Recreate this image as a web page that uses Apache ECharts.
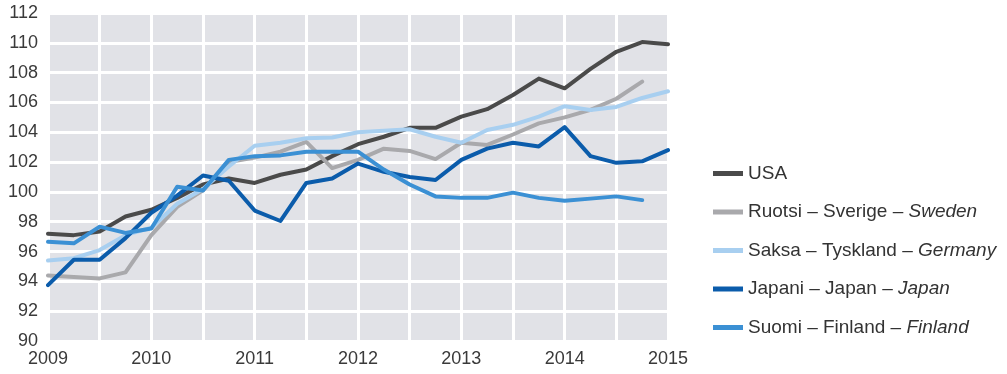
<!DOCTYPE html>
<html><head><meta charset="utf-8">
<script src="https://cdn.jsdelivr.net/npm/echarts@6/dist/echarts.min.js"></script>
<style>html,body{margin:0;padding:0;background:#fff}#c{width:1007px;height:374px}</style>
</head><body><div id="c"></div>
<script>
const quarters = ['2009','2009 Q2','2009 Q3','2009 Q4',
  '2010','2010 Q2','2010 Q3','2010 Q4',
  '2011','2011 Q2','2011 Q3','2011 Q4',
  '2012','2012 Q2','2012 Q3','2012 Q4',
  '2013','2013 Q2','2013 Q3','2013 Q4',
  '2014','2014 Q2','2014 Q3','2014 Q4',
  '2015'];
const yTicks = [90,92,94,96,98,100,102,104,106,108,110,112];

const usa     = [97.2, 97.1, 97.35, 98.35, 98.8, 99.6, 100.5, 100.9, 100.6, 101.15, 101.5, 102.4, 103.2, 103.7, 104.3, 104.3, 105.05, 105.55, 106.5, 107.6, 106.95, 108.25, 109.4, 110.05, 109.9];
const sweden  = [94.4, 94.3, 94.2, 94.6, 97.1, 99.0, 100.1, 102.0, 102.3, 102.7, 103.35, 101.6, 102.15, 102.9, 102.75, 102.2, 103.3, 103.15, 103.85, 104.6, 105.0, 105.5, 106.25, 107.4, null];
const germany = [95.4, 95.55, 96.1, 97.1, 97.6, 99.2, 100.2, 101.7, 103.1, 103.3, 103.6, 103.65, 104.0, 104.1, 104.2, 103.7, 103.3, 104.15, 104.5, 105.05, 105.75, 105.5, 105.7, 106.3, 106.75];
const japan   = [93.75, 95.45, 95.45, 96.9, 98.6, 99.75, 101.1, 100.75, 98.75, 98.05, 100.6, 100.9, 101.9, 101.35, 101.0, 100.8, 102.15, 102.9, 103.3, 103.05, 104.35, 102.4, 101.95, 102.05, 102.8];
const finland = [96.65, 96.55, 97.67, 97.25, 97.55, 100.35, 100.1, 102.15, 102.4, 102.45, 102.7, 102.7, 102.7, 101.5, 100.5, 99.7, 99.6, 99.6, 99.95, 99.6, 99.4, 99.55, 99.7, 99.45, null];

const seriesNames  = ['USA', 'Ruotsi – Sverige – Sweden', 'Saksa – Tyskland – Germany', 'Japani – Japan – Japan', 'Suomi – Finland – Finland'];
const legendPlain  = ['USA', 'Ruotsi – Sverige – ', 'Saksa – Tyskland – ', 'Japani – Japan – ', 'Suomi – Finland – '];
const legendItalic = ['', 'Sweden', 'Germany', 'Japan', 'Finland'];
const seriesColors = ['#4a4a4a', '#a9a9ac', '#a8cff0', '#0b5cab', '#3b90d4'];
const seriesData   = [usa, sweden, germany, japan, finland];

const chart = echarts.init(document.getElementById('c'), null, {renderer: 'canvas'});
const font = 'Liberation Sans, Arial, Helvetica, sans-serif';
chart.setOption({
  animation: false,
  backgroundColor: '#ffffff',
  textStyle: {fontFamily: font},
  grid: {left: 48, right: 339, top: 13, bottom: 33, show: true, backgroundColor: '#e1e2e7', borderWidth: 0, containLabel: false},
  xAxis: {
    type: 'category', data: quarters, boundaryGap: false,
    axisLine: {show: false}, axisTick: {show: false},
    axisLabel: {interval: 3, color: '#3a3a3a', fontSize: 18, fontFamily: font, margin: 9,
      formatter: v => v.length === 4 ? v : ''},
    splitLine: {show: true, interval: 1, lineStyle: {color: '#ffffff', width: 3}}
  },
  yAxis: {
    type: 'value', min: yTicks[0], max: yTicks[yTicks.length - 1], interval: 2,
    axisLine: {show: false}, axisTick: {show: false},
    axisLabel: {color: '#3a3a3a', fontSize: 18, fontFamily: font, margin: 10},
    splitLine: {show: true, lineStyle: {color: '#ffffff', width: 3}}
  },
  legend: {
    orient: 'vertical', left: 713, top: 164, padding: 0, icon: 'rect', itemWidth: 30, itemHeight: 5, itemGap: 19.5,
    data: seriesNames,
    formatter: name => {
      const i = seriesNames.indexOf(name);
      return '{n|' + legendPlain[i] + '}' + (legendItalic[i] ? '{i|' + legendItalic[i] + '}' : '');
    },
    textStyle: {
      fontFamily: font, fontSize: 19, color: '#333333',
      rich: {
        n: {fontFamily: font, fontSize: 19, color: '#333333', lineHeight: 20},
        i: {fontFamily: font, fontSize: 19, color: '#333333', fontStyle: 'italic', lineHeight: 20}
      }
    }
  },
  series: seriesData.map((d, k) => ({
    name: seriesNames[k], type: 'line', data: d, showSymbol: false, symbol: 'none',
    color: seriesColors[k], z: 2 + k,
    lineStyle: {color: seriesColors[k], width: 4, join: 'round', cap: 'round'}
  }))
});
</script></body></html>
